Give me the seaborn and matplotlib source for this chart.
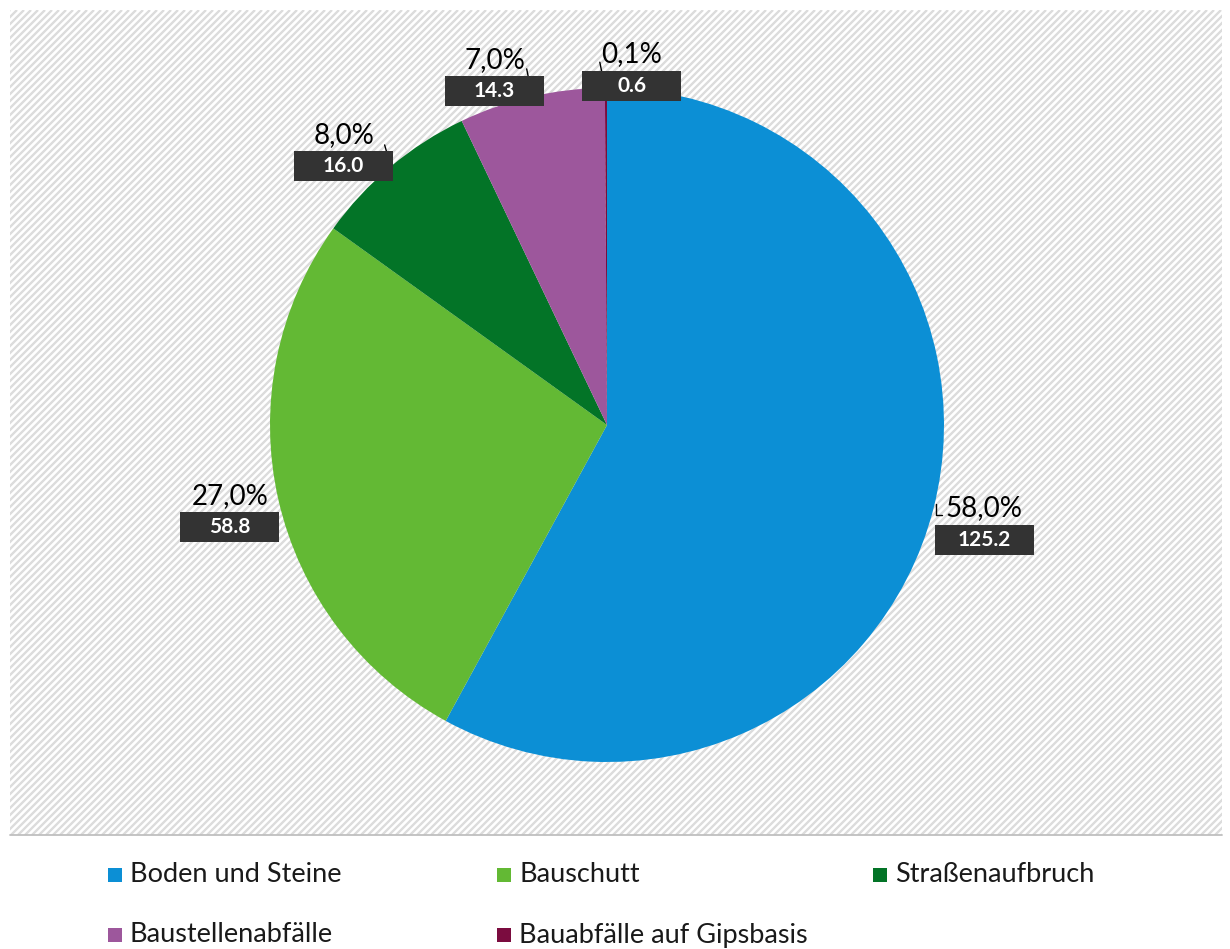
import numpy as np
import matplotlib
matplotlib.use('Agg')
import matplotlib.pyplot as plt
from matplotlib.patches import Rectangle
from matplotlib.collections import LineCollection
import seaborn as sns

# Data
CATEGORIES = ['Boden und Steine', 'Bauschutt', 'Straßenaufbruch',
              'Baustellenabfälle', 'Bauabfälle auf Gipsbasis']
SHARES = [58.0, 27.0, 8.0, 7.0, 0.1]          # percent
AMOUNTS = [125.2, 58.8, 16.0, 14.3, 0.6]      # value shown in the dark boxes
COLORS = ['#0C8FD5', '#63B934', '#037427', '#9D579C', '#7B0C3F']

# Layout (pixel units, y measured from top)
W, H = 1230, 949
CENTER = (607, 425)
RADIUS = 337
LABEL_NUDGE = [(8, 5), (-6, 2), (-19, 18), (-27, 22), (26, 26)]
# short leader strokes relative to each label centre (dx, dy down)
LEADERS = [[(-48, -20), (-48, -9), (-42, -9)], None,
           [(41, -6), (43, 1)], [(32, -7), (34, 3)], [(-32, -8), (-30, 2)]]
AREA = (10, 10, 1222, 835)   # hatched plot area: left, top, right, bottom

sns.set_style('white')
plt.rcParams['font.family'] = ['Lato', 'DejaVu Sans']

fig = plt.figure(figsize=(W / 100, H / 100), dpi=100)
ax = fig.add_axes([0, 0, 1, 1])


def fy(v):
    return H - v


# hatched plot area (diagonal stripes, ~7 px apart)
left, top, right, bottom = AREA
bg = Rectangle((left, fy(bottom)), right - left, bottom - top,
               facecolor='white', edgecolor='none', zorder=0)
ax.add_patch(bg)
span = (bottom - top)
segs = []
for x0 in np.arange(left - span, right + 7, 7):
    segs.append([(x0, fy(bottom)), (x0 + span, fy(top))])
hatch = LineCollection(segs, colors='#dcdcdc', linewidths=1.7, zorder=0.5)
ax.add_collection(hatch)
hatch.set_clip_path(bg)
ax.plot([left, right], [fy(bottom), fy(bottom)], color='#bfbfbf', lw=1.3, zorder=1)

palette = sns.color_palette(COLORS)
wedges, _ = ax.pie(SHARES, colors=palette, startangle=90, counterclock=False,
                   center=(CENTER[0], fy(CENTER[1])), radius=RADIUS,
                   wedgeprops=dict(linewidth=0), frame=False)
for w in wedges:
    w.set_zorder(2)

# data labels
for i, w in enumerate(wedges):
    mid = np.deg2rad((w.theta1 + w.theta2) / 2)
    gx = CENTER[0] + 1.13 * RADIUS * np.cos(mid) + LABEL_NUDGE[i][0]
    gy = fy(CENTER[1]) + 1.13 * RADIUS * np.sin(mid) - LABEL_NUDGE[i][1]
    if LEADERS[i]:
        lx = [gx + p[0] for p in LEADERS[i]]
        ly = [gy - p[1] for p in LEADERS[i]]
        ax.plot(lx, ly, color='black', lw=1.0, zorder=3)
    pct = f'{SHARES[i]:.1f}%'.replace('.', ',')
    ax.text(gx, gy + 16, pct, fontsize=20, ha='center', va='center',
            color='#000000', zorder=4)
    ax.add_patch(Rectangle((gx - 49.5, gy - 15.5 - 15), 99, 30,
                           facecolor='#333333', edgecolor='none', zorder=5))
    ax.text(gx, gy - 15.5, f'{AMOUNTS[i]:.1f}', fontsize=15, fontweight='bold',
            ha='center', va='center', color='white', zorder=6)

# legend
LEG_X = [108, 497, 873]
LEG_Y = [875, 935]
for i, name in enumerate(CATEGORIES):
    x = LEG_X[i % 3]
    y = fy(LEG_Y[i // 3])
    ax.add_patch(Rectangle((x, y - 7), 14, 14, facecolor=COLORS[i],
                           edgecolor='none'))
    ax.text(x + 22, y, name, fontsize=19.5, ha='left', va='center', color='#1a1a1a')

ax.set_xlim(0, W)
ax.set_ylim(0, H)
ax.set_aspect('auto')
ax.axis('off')

fig.savefig('out.png', dpi=100)
